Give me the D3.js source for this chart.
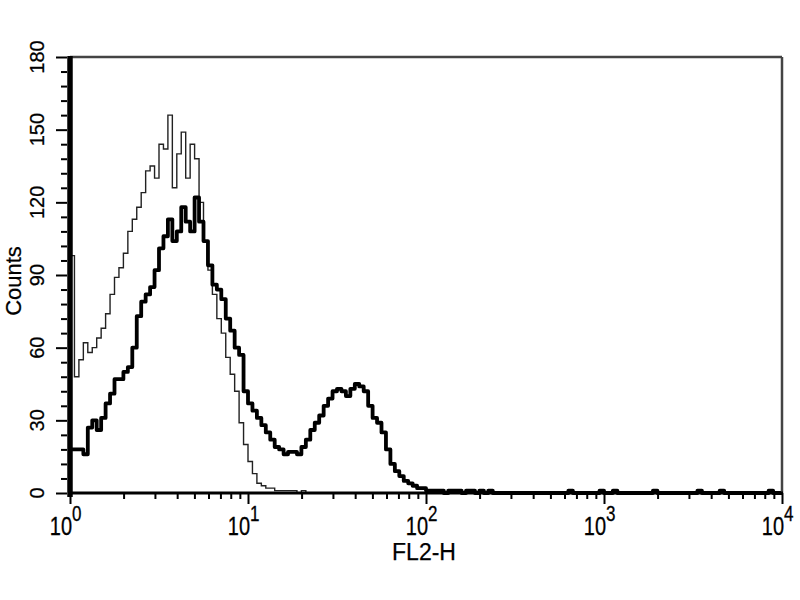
<!DOCTYPE html>
<html>
<head>
<meta charset="utf-8">
<script src="https://cdn.jsdelivr.net/npm/d3@7/dist/d3.min.js"></script>
<style>
  html, body { margin: 0; padding: 0; background: #fff; }
  svg { display: block; }
  text { font-family: "Liberation Sans", Arial, sans-serif; fill: #000; stroke: #000; stroke-width: 0.25; }
</style>
</head>
<body>
<svg id="chart" width="800" height="600"></svg>
<script>
// ---- Data (histogram counts, 40 bins per decade, FL2-H from 10^0 to 10^4) ----
const binsPerDecade = 40;
const xTickValues = [1, 10, 100, 1000, 10000];
const xTickExponents = ["0", "1", "2", "3", "4"];
const yTickValues = [0, 30, 60, 90, 120, 150, 180];
const xLabel = "FL2-H";
const yLabel = "Counts";

// thin line: control
const controlCounts = [
  98,48,55,62,58,60,64,68,74,82, 89,93,99,108,113,118,124,133,135,130,
  144,142,156,126,140,149,130,144,138,120, 104,92,82,72,66,56,49,42,29,20,
  13,8,4,3,2,2,1,1,1,1, 1,0,1,0,0,0,0,0,0,0,
  0,0,0,0,0,0,0,0,0,0, 0,0,0,0,0,0,0,0,0,0,
  0,0,0,0,0,0,0,0,0,0, 0,0,0,0,0,0,0,0,0,0,
  0,0,0,0,0,0,0,0,0,0, 0,0,0,0,0,0,0,0,0,0,
  0,0,0,0,0,0,0,0,0,0, 0,0,0,0,0,0,0,0,0,0,
  0,0,0,0,0,0,0,0,0,0, 0,0,0,0,0,0,0,0,0,0
];
// thick line: stained sample
const sampleCounts = [
  18,18,18,16,27,30,26,31,37,41, 47,47,50,52,60,73,79,82,85,92,
  101,106,113,104,108,118,112,108,122,112, 104,94,86,84,80,72,67,60,57,42,
  37,34,31,28,25,22,19,18,16,17, 17,16,19,22,26,29,32,36,39,42,
  43,42,40,43,45,44,42,36,31,29, 25,18,12,9,7,5,4,3,2,2,
  1,1,1,1,0,1,1,1,0,1, 1,0,1,0,1,0,0,0,0,0,
  0,0,0,0,0,0,0,0,0,0, 0,0,1,0,0,0,0,0,0,1,
  0,0,1,0,0,0,0,0,0,0, 0,1,0,0,0,0,0,0,0,0,
  0,1,0,0,0,0,1,0,0,0, 0,0,0,0,0,0,0,1,0,0
];

// ---- Layout ----
const svg = d3.select("#chart");
const mLeft = 70, mRight = 782, mTop = 57, mBottom = 493;

const x = d3.scaleLog().domain([1, 10000]).range([mLeft, mRight]);
const y = d3.scaleLinear().domain([0, 180]).range([mBottom, mTop]);

function stepPoints(counts) {
  const pts = counts.map((v, i) => [x(Math.pow(10, i / binsPerDecade)), y(v)]);
  pts.push([x(Math.pow(10, counts.length / binsPerDecade)), y(counts[counts.length - 1])]);
  return pts;
}
const line = d3.line().curve(d3.curveStepAfter);

// data lines
svg.append("path")
  .attr("d", line(stepPoints(controlCounts)))
  .attr("fill", "none").attr("stroke", "#222").attr("stroke-width", 1.4)
  .attr("stroke-linejoin", "miter");
svg.append("path")
  .attr("d", line(stepPoints(sampleCounts)))
  .attr("fill", "none").attr("stroke", "#000").attr("stroke-width", 3.8)
  .attr("stroke-linejoin", "round");

// frame: top & right (thin grey)
svg.append("line").attr("x1", x.range()[0]).attr("x2", x.range()[1])
  .attr("y1", y.range()[1]).attr("y2", y.range()[1])
  .attr("stroke", "#444").attr("stroke-width", 2.5);
svg.append("line").attr("x1", x.range()[1]).attr("x2", x.range()[1])
  .attr("y1", y.range()[1]).attr("y2", y.range()[0])
  .attr("stroke", "#444").attr("stroke-width", 2.5);

// X axis: major + minor ticks
const xMinor = [];
for (let d = 0; d < 4; d++) for (let m = 2; m <= 9; m++) xMinor.push(m * Math.pow(10, d));
const xAxisMinor = d3.axisBottom(x).tickValues(xMinor).tickSize(6).tickFormat("");
const xAxisMajor = d3.axisBottom(x).tickValues(xTickValues).tickSize(11).tickFormat("");
const gx1 = svg.append("g").attr("transform", `translate(0,${mBottom})`).call(xAxisMinor);
const gx2 = svg.append("g").attr("transform", `translate(0,${mBottom})`).call(xAxisMajor);
[gx1, gx2].forEach(g => {
  g.select(".domain").remove();
  g.selectAll(".tick line").attr("stroke", "#000").attr("stroke-width", 2);
});
svg.append("line").attr("x1", x.range()[0] - 2).attr("x2", x.range()[1] + 1)
  .attr("y1", mBottom).attr("y2", mBottom)
  .attr("stroke", "#000").attr("stroke-width", 3);

// X tick labels "10^n"
const xl = svg.append("g").attr("class", "xlabels");
xTickValues.forEach((v, i) => {
  const g = xl.append("g").attr("transform", `translate(${x(v)},535) scale(1,1.25)`);
  g.append("text").attr("x", 2).attr("y", 0).attr("text-anchor", "end")
    .attr("font-size", 20).text("10");
  g.append("text").attr("x", 2).attr("y", -11).attr("text-anchor", "start")
    .attr("font-size", 17).text(xTickExponents[i]);
});

// Y axis: major + minor ticks
const yMinor = d3.range(0, 181, 6).filter(v => v % 30 !== 0);
const yAxisMinor = d3.axisLeft(y).tickValues(yMinor).tickSize(6).tickFormat("");
const yAxisMajor = d3.axisLeft(y).tickValues(yTickValues).tickSize(11).tickFormat("");
const gy1 = svg.append("g").attr("transform", `translate(${mLeft - 3},0)`).call(yAxisMinor);
const gy2 = svg.append("g").attr("transform", `translate(${mLeft - 3},0)`).call(yAxisMajor);
[gy1, gy2].forEach(g => {
  g.select(".domain").remove();
  g.selectAll(".tick line").attr("stroke", "#000").attr("stroke-width", 2);
});
svg.append("line").attr("x1", mLeft).attr("x2", mLeft)
  .attr("y1", mTop - 1).attr("y2", mBottom + 4)
  .attr("stroke", "#000").attr("stroke-width", 5.5);

// Y tick labels (rotated)
yTickValues.forEach(v => {
  svg.append("text")
    .attr("transform", `translate(44,${y(v)}) rotate(-90)`)
    .attr("text-anchor", "middle").attr("font-size", 20).text(v);
});

// Axis titles
svg.append("text").attr("x", 424).attr("y", 560)
  .attr("text-anchor", "middle").attr("font-size", 23).text(xLabel);
svg.append("text")
  .attr("transform", `translate(21,${(mTop + mBottom) / 2 + 6}) rotate(-90)`)
  .attr("text-anchor", "middle").attr("font-size", 22).text(yLabel);
</script>
</body>
</html>
